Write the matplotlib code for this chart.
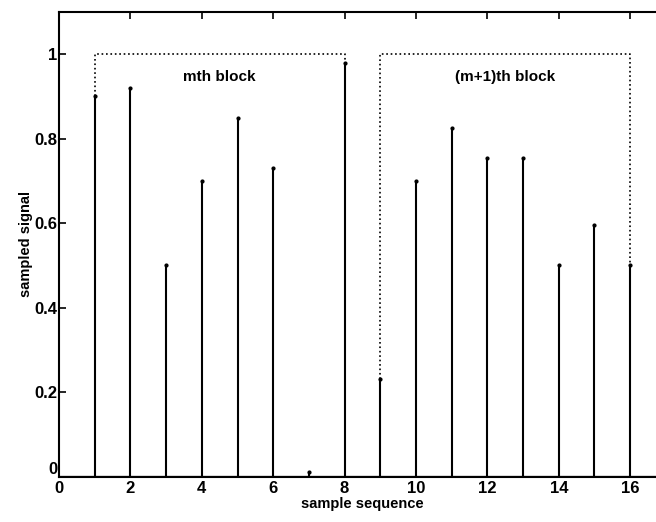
import numpy as np
import matplotlib.pyplot as plt

plt.rcParams['font.family'] = ['Liberation Sans', 'DejaVu Sans']
plt.rcParams['font.weight'] = 'bold'

# sample index and sampled values
n = np.arange(1, 17)
samples = [0.90, 0.92, 0.50, 0.70, 0.85, 0.73, 0.01, 0.98,
           0.23, 0.70, 0.825, 0.755, 0.755, 0.50, 0.595, 0.50]

# block outlines (start, end) and labels
blocks = [(1, 8), (9, 16)]
block_labels = ["mth block", "(m+1)th block"]
block_top = 1.0

fig = plt.figure(figsize=(6.56, 5.22), dpi=100)
ax = fig.add_axes([0.09, 0.087, 0.925, 0.89])

ax.vlines(n, 0, samples, color='black', lw=1.5)
ax.plot(n, samples, '.', color='black', ms=4)
ax.axhline(0, color='black', lw=1.6)

vals = dict(zip(n, samples))
for (a, b), lab in zip(blocks, block_labels):
    ax.plot([a, a, b, b], [vals[a], block_top, block_top, vals[b]],
            ls=':', color='black', lw=1.2)
    ax.text((a + b) / 2, 0.945, lab, ha='center', va='center',
            fontsize=11, fontweight='bold')

ax.set_xlim(0, 17)
ax.set_ylim(0, 1.1)
ax.set_xticks(np.arange(0, 17, 2))
ax.set_yticks([0, 0.2, 0.4, 0.6, 0.8, 1])
ax.set_yticklabels(['0', '0.2', '0.4', '0.6', '0.8', '1'])
ax.tick_params(direction='in', top=True, right=True, labelsize=12, width=1.2, length=5)
ax.tick_params(axis='y', pad=1)
ax.tick_params(axis='x', pad=3)
for lbl in ax.get_yticklabels()[:1]:
    lbl.set_verticalalignment('bottom')
for sp in ax.spines.values():
    sp.set_linewidth(1.5)
ax.spines['right'].set_visible(False)

ax.set_xlabel('sample sequence', fontsize=10.5, fontweight='bold', labelpad=1)
ax.set_ylabel('sampled signal', fontsize=10.5, fontweight='bold', labelpad=1)

fig.savefig('out.png', dpi=100)
